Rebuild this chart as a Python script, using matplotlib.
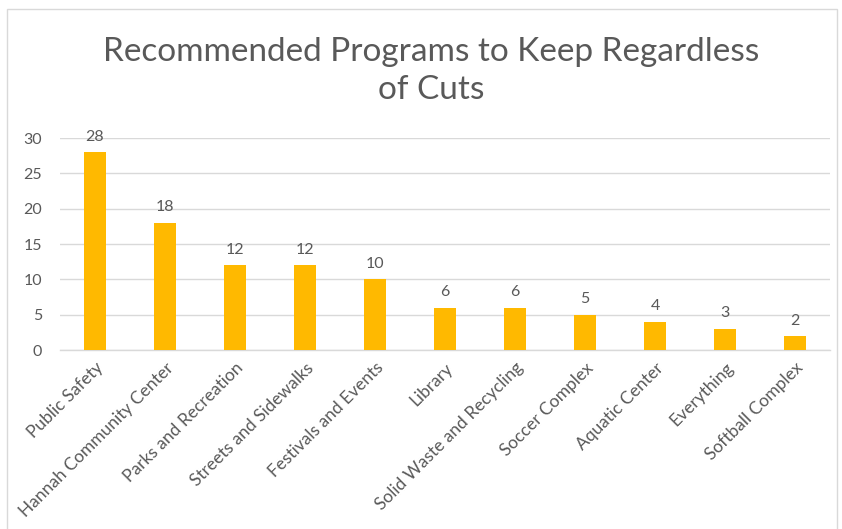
import matplotlib
matplotlib.use("Agg")
import matplotlib.pyplot as plt
from matplotlib.patches import Rectangle

categories = ["Public Safety", "Hannah Community Center", "Parks and Recreation",
              "Streets and Sidewalks", "Festivals and Events", "Library",
              "Solid Waste and Recycling", "Soccer Complex", "Aquatic Center",
              "Everything", "Softball Complex"]
values = [28, 18, 12, 12, 10, 6, 6, 5, 4, 3, 2]
yticks = [0, 5, 10, 15, 20, 25, 30]

W, H = 842, 529
fig = plt.figure(figsize=(W/100, H/100), dpi=100)
plt.rcParams['font.family'] = ['Lato', 'DejaVu Sans']
txt = '#595959'

ax = fig.add_axes([60/W, 1-350/H, 770/W, 212/H])
x = list(range(len(categories)))
ax.bar(x, values, width=0.31, color='#FFB900', zorder=3)
ax.set_xlim(-0.5, len(categories)-0.5)
ax.set_ylim(0, 30)
ax.set_yticks(yticks)
ax.yaxis.grid(True, color='#D9D9D9', linewidth=1, zorder=0)
for s in ['top', 'right', 'left']:
    ax.spines[s].set_visible(False)
ax.spines['bottom'].set_color('#D9D9D9')
ax.spines['bottom'].set_linewidth(1)
ax.tick_params(axis='both', length=0, colors=txt, labelsize=11.5)
ax.tick_params(axis='y', pad=13)
ax.set_xticks(x)
ax.set_xticklabels(categories, rotation=45, ha='right', rotation_mode='anchor', color=txt,
                   fontsize=12.5)
ax.tick_params(axis='x', pad=7)
for xi, v in zip(x, values):
    ax.annotate(str(v), (xi, v), xytext=(0, 6), textcoords='offset points',
                ha='center', va='bottom', fontsize=11.5, color=txt)

fig.text(431/W, 1-71/H, "Recommended Programs to Keep Regardless\nof Cuts", ha='center', va='center',
         fontsize=24, color=txt, linespacing=1.3)

fig.patches.append(Rectangle((7/W, -0.01), 830/W, 1-9/H+0.01, transform=fig.transFigure,
                             fill=False, edgecolor='#D9D9D9', linewidth=1))
fig.savefig("out.png", dpi=100)
